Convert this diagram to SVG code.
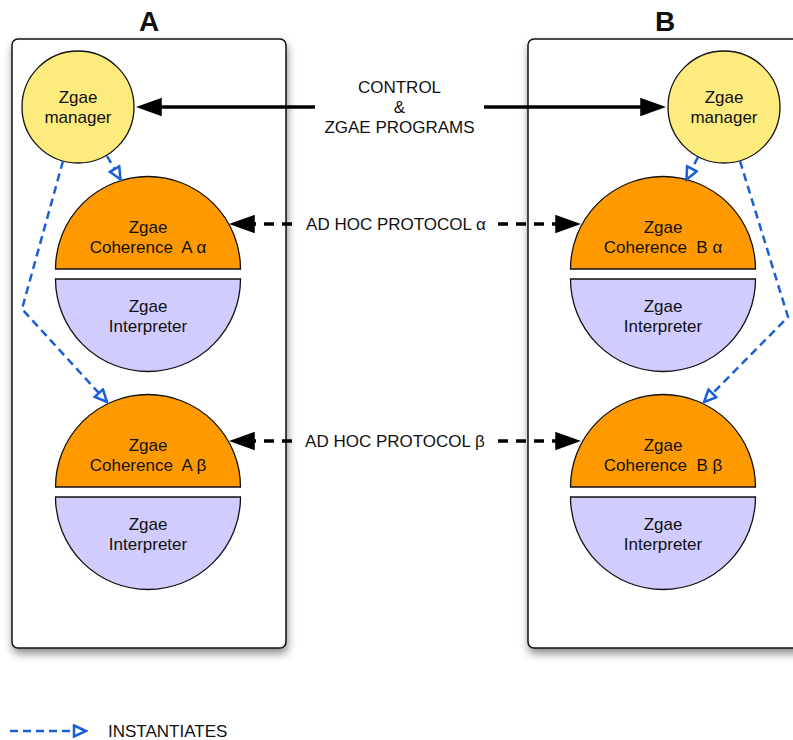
<svg xmlns="http://www.w3.org/2000/svg" width="793" height="740" viewBox="0 0 793 740">
<style>
text{font-family:"Liberation Sans",Arial,Helvetica,sans-serif;font-size:17px;fill:#111;text-anchor:middle;white-space:pre}
.title{font-size:28px;font-weight:bold}
.box{fill:#fff;stroke:#111;stroke-width:1.5;filter:url(#shadow)}
.mgr{fill:#fdeb7e;stroke:#111;stroke-width:1.3}
.coh{fill:#fe9a00;stroke:#111;stroke-width:1.3}
.int{fill:#d0ccfd;stroke:#111;stroke-width:1.3}
.ctl{fill:none;stroke:#000;stroke-width:3.5;marker-end:url(#solid)}
.adh{fill:none;stroke:#000;stroke-width:3.5;stroke-dasharray:10 8;marker-end:url(#solid)}
.inst{fill:none;stroke:#1a5fd6;stroke-width:2.5;stroke-dasharray:8 5;marker-end:url(#open)}
</style>
<defs>
<filter id="shadow" x="-10%" y="-10%" width="130%" height="130%">
<feDropShadow dx="1" dy="5" stdDeviation="4" flood-color="#000" flood-opacity="0.45"/>
</filter>
<marker id="solid" markerUnits="userSpaceOnUse" markerWidth="26" markerHeight="19" viewBox="0 0 24 17" refX="9" refY="8.5" orient="auto">
<path d="M0,0 L24,8.5 L0,17 Z" fill="#000"/>
</marker>
<marker id="open" markerUnits="userSpaceOnUse" markerWidth="16" markerHeight="14" viewBox="0 0 14 12" refX="12" refY="6" orient="auto">
<path d="M1.5,1.2 L12,6 L1.5,10.8 Z" fill="#fff" stroke="#1a5fd6" stroke-width="2.2" stroke-linejoin="miter"/>
</marker>
</defs>

<g id="container-A">
<rect class="box" x="12" y="39" width="274" height="609" rx="6"/>
<text class="title" x="149" y="31">A</text>
</g>
<g id="container-B">
<rect class="box" x="528" y="39" width="274" height="609" rx="6"/>
<text class="title" x="665" y="31">B</text>
</g>

<g id="manager-A">
<circle class="mgr" cx="78" cy="107" r="56"/>
<text x="78" y="103">Zgae</text>
<text x="78" y="123">manager</text>
</g>
<g id="manager-B">
<circle class="mgr" cx="724" cy="107" r="56"/>
<text x="724" y="103">Zgae</text>
<text x="724" y="123">manager</text>
</g>

<g id="coherence-A-alpha">
<path class="coh" d="M55.5,269 A92.5,92.5 0 0 1 240.5,269 Z"/>
<text x="148" y="233">Zgae</text>
<text x="148" y="253" xml:space="preserve">Coherence  A α</text>
</g>
<g id="interpreter-A-alpha">
<path class="int" d="M55.5,279 A92.5,92.5 0 0 0 240.5,279 Z"/>
<text x="148" y="312">Zgae</text>
<text x="148" y="332">Interpreter</text>
</g>
<g id="coherence-A-beta">
<path class="coh" d="M55.5,487 A92.5,92.5 0 0 1 240.5,487 Z"/>
<text x="148" y="451">Zgae</text>
<text x="148" y="471" xml:space="preserve">Coherence  A β</text>
</g>
<g id="interpreter-A-beta">
<path class="int" d="M55.5,497 A92.5,92.5 0 0 0 240.5,497 Z"/>
<text x="148" y="530">Zgae</text>
<text x="148" y="550">Interpreter</text>
</g>

<g id="coherence-B-alpha">
<path class="coh" d="M570.5,269 A92.5,92.5 0 0 1 755.5,269 Z"/>
<text x="663" y="233">Zgae</text>
<text x="663" y="253" xml:space="preserve">Coherence  B α</text>
</g>
<g id="interpreter-B-alpha">
<path class="int" d="M570.5,279 A92.5,92.5 0 0 0 755.5,279 Z"/>
<text x="663" y="312">Zgae</text>
<text x="663" y="332">Interpreter</text>
</g>
<g id="coherence-B-beta">
<path class="coh" d="M570.5,487 A92.5,92.5 0 0 1 755.5,487 Z"/>
<text x="663" y="451">Zgae</text>
<text x="663" y="471" xml:space="preserve">Coherence  B β</text>
</g>
<g id="interpreter-B-beta">
<path class="int" d="M570.5,497 A92.5,92.5 0 0 0 755.5,497 Z"/>
<text x="663" y="530">Zgae</text>
<text x="663" y="550">Interpreter</text>
</g>

<g id="connectors">
<line class="ctl" x1="315" y1="107" x2="152" y2="107"/>
<line class="ctl" x1="484" y1="107" x2="650" y2="107"/>
<text x="399.5" y="93">CONTROL</text>
<text x="399.5" y="113">&amp;</text>
<text x="399.5" y="133">ZGAE PROGRAMS</text>

<line class="adh" x1="292" y1="224" x2="245" y2="224"/>
<line class="adh" x1="498" y1="224" x2="565" y2="224"/>
<text x="396" y="230">AD HOC PROTOCOL α</text>

<line class="adh" x1="292" y1="441" x2="245" y2="441"/>
<line class="adh" x1="498" y1="441" x2="565" y2="441"/>
<text x="395" y="447">AD HOC PROTOCOL β</text>

<path class="inst" d="M107,156 L120.5,179.5"/>
<path class="inst" d="M63,161 L22,309 L107,402"/>
<path class="inst" d="M698,157 L686.5,179.5"/>
<path class="inst" d="M740,161 L788,317 L704,402"/>
</g>

<g id="legend">
<line class="inst" x1="10" y1="731" x2="86" y2="731"/>
<text x="108" y="737" style="text-anchor:start">INSTANTIATES</text>
</g>
</svg>
